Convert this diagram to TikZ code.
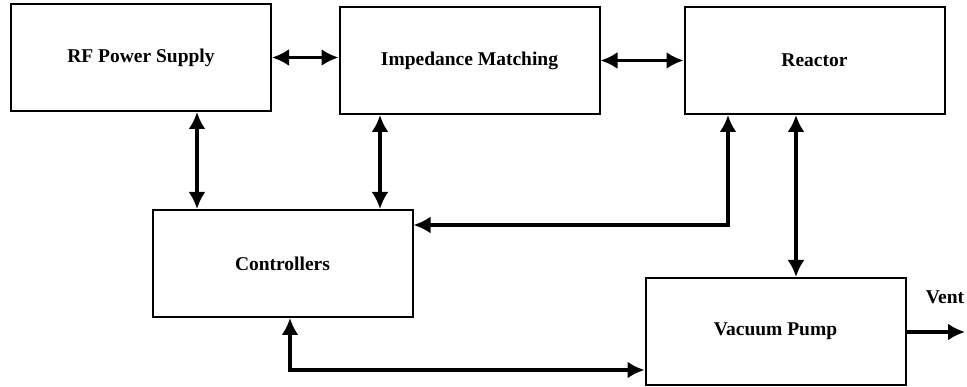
\documentclass[tikz,border=0pt]{standalone}
\usepackage{fontspec}
\setmainfont{Liberation Serif}
\usetikzlibrary{positioning,calc,arrows.meta}
\tikzset{blk/.style={draw,line width=2pt,minimum width=260pt,minimum height=107pt,inner sep=0pt,font=\fontsize{19.5}{22}\selectfont\bfseries},
  dbl/.style={line width=3.2pt,{Latex[length=17pt,width=17pt]}-{Latex[length=17pt,width=17pt]}},
  sgl/.style={line width=3.2pt,-{Latex[length=17pt,width=17pt]}}}

\begin{document}
\begin{tikzpicture}[x=1pt,y=-1pt]
          \useasboundingbox (0,0) rectangle (967,387);

          % the blocks
          \node (rf) [blk] at (141,57.5) {RF Power Supply};
          \node (im) [blk] at (469.5,60.5) {Impedance Matching};
          \node (rx) [blk] at (814.5,60.5) {Reactor};
          \node (ctl) [blk] at (282.5,263.5) {Controllers};
          \node (vp) [blk] at (775.5,331.5) {Vacuum Pump};

          % top row
          \draw[dbl] (rf.east) -- (rf.east -| im.west);
          \draw[dbl] (im.east) -- (im.east -| rx.west);

          % to the controllers
          \draw[dbl] ([xshift=56pt]rf.south) -- ([xshift=56pt]rf.south |- ctl.north);
          \draw[dbl] ([xshift=-89.5pt]im.south) -- ([xshift=-89.5pt]im.south |- ctl.north);
          \draw[dbl] ([xshift=-86.5pt]rx.south) |- ([yshift=38.5pt]ctl.east);
          \draw[dbl] ([xshift=7.5pt]ctl.south) |- ([yshift=-38.5pt]vp.west);

          % pump
          \draw[dbl] ([xshift=-18.5pt]rx.south) -- ([xshift=-18.5pt]rx.south |- vp.north);
          \coordinate (ventend) at (965,332);
          \draw[sgl] (vp.east |- ventend) -- (ventend);
          \node (vent) [font=\fontsize{19.5}{22}\selectfont\bfseries] at (945,297) {Vent};
\end{tikzpicture}
\end{document}
